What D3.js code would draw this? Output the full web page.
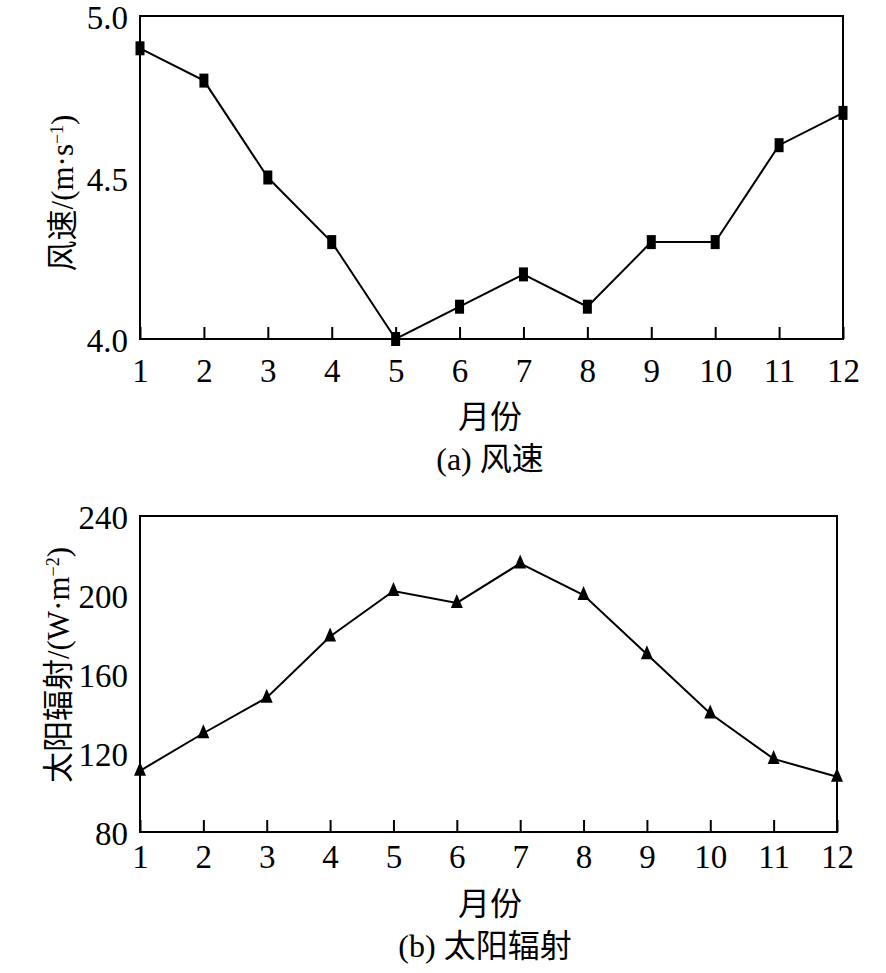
<!DOCTYPE html>
<html><head><meta charset="utf-8">
<script src="https://cdn.jsdelivr.net/npm/d3@7"></script>
<style>
html,body{margin:0;padding:0;background:#fff;}
text{fill:#000;}
</style>
</head><body>
<svg id="c" width="886" height="973"></svg>
<script>
const months = [1,2,3,4,5,6,7,8,9,10,11,12];
const windSpeed = [4.9,4.8,4.5,4.3,4.0,4.1,4.2,4.1,4.3,4.3,4.6,4.7];
const radiation = [111,130,148,179,202,196,216,200,170,140,117,108];
const windTicks = [4.0,4.5,5.0];
const radTicks = [80,120,160,200,240];

const svg = d3.select("#c");
const serif = "'Liberation Serif','Times New Roman',serif";
const cjk = "'Liberation Serif','Noto Sans CJK SC',serif";

function panel(cfg){
  const g = svg.append("g");
  const x = d3.scaleLinear().domain([1,12]).range([cfg.left, cfg.right]);
  const y = d3.scaleLinear().domain(cfg.domain).range([cfg.bottom, cfg.top]);
  g.append("rect").attr("x",cfg.left).attr("y",cfg.top)
    .attr("width",cfg.right-cfg.left).attr("height",cfg.bottom-cfg.top)
    .attr("fill","none").attr("stroke","#000").attr("stroke-width",2);
  const xa = g.append("g").attr("transform",`translate(0,${cfg.bottom})`)
    .call(d3.axisBottom(x).tickValues(months).tickSizeInner(-12).tickSizeOuter(0).tickFormat(d3.format("d")));
  xa.select(".domain").remove();
  xa.selectAll(".tick line").attr("stroke","#000").attr("stroke-width",2);
  xa.selectAll(".tick text").attr("font-family",serif).style("font-size","33px").attr("dy","0").attr("y",cfg.xtb);
  const ya = g.append("g").attr("transform",`translate(${cfg.left},0)`)
    .call(d3.axisLeft(y).tickValues(cfg.ticks).tickSize(0).tickPadding(12).tickFormat(cfg.fmt));
  ya.select(".domain").remove();
  ya.selectAll(".tick text").attr("font-family",serif).style("font-size","33px").attr("dy","0.38em");
  const line = d3.line().x((d,i)=>x(months[i])).y(d=>y(d));
  g.append("path").datum(cfg.values).attr("d",line).attr("fill","none")
    .attr("stroke","#000").attr("stroke-width",2);
  if(cfg.marker==="rect"){
    g.selectAll("rect.m").data(cfg.values).join("rect").attr("class","m")
      .attr("x",(d,i)=>x(months[i])-4.5).attr("y",d=>y(d)-7)
      .attr("width",9).attr("height",14).attr("fill","#000");
  } else {
    g.selectAll("path.m").data(cfg.values).join("path").attr("class","m")
      .attr("d",(d,i)=>{const cx=x(months[i]), cy=y(d);
        return `M${cx},${cy-9}L${cx+6},${cy+5}L${cx-6},${cy+5}Z`;})
      .attr("fill","#000");
  }
  g.append("text").attr("transform",`translate(${cfg.ylx},${cfg.yly}) rotate(-90)`)
    .attr("text-anchor","middle").attr("font-family",cjk).style("font-size","31px")
    .html(cfg.ylabel);
  g.append("text").attr("x",490).attr("y",cfg.xly).attr("text-anchor","middle")
    .attr("font-family",cjk).style("font-size","32px").text("月份");
  g.append("text").attr("x",cfg.capx).attr("y",cfg.capy).attr("text-anchor","middle")
    .attr("font-family",cjk).style("font-size","32px").text(cfg.caption);
}

panel({left:140,right:843,top:16,bottom:339,domain:[4.0,5.0],ticks:windTicks,
  fmt:d3.format(".1f"),values:windSpeed,marker:"rect",xtb:43,
  ylx:73,yly:193,ylabel:'风速/(m·s<tspan baseline-shift="super" style="font-size:18px">−1</tspan>)',
  xly:428,capx:490,capy:470,caption:"(a) 风速"});

panel({left:140,right:837,top:516,bottom:832,domain:[80,240],ticks:radTicks,
  fmt:d3.format("d"),values:radiation,marker:"tri",xtb:36,
  ylx:69,yly:665,ylabel:'太阳辐射/(W·m<tspan baseline-shift="super" style="font-size:18px">−2</tspan>)',
  xly:915,capx:485,capy:957,caption:"(b) 太阳辐射"});
</script>
</body></html>
